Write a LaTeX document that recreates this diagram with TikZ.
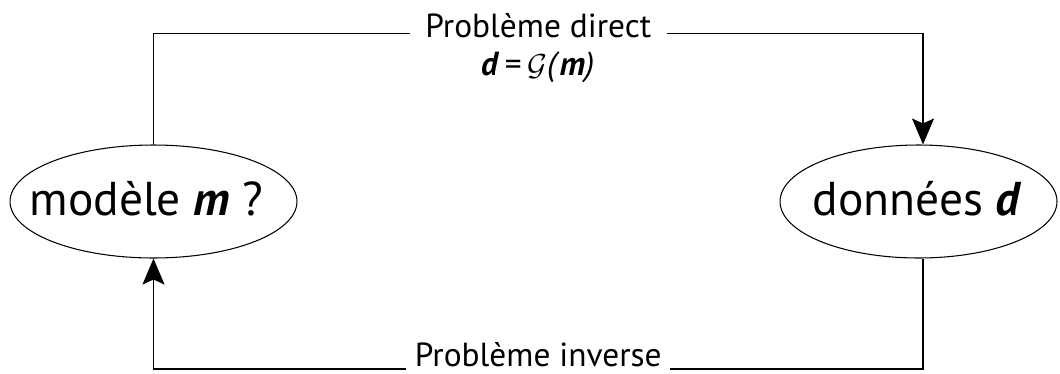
\documentclass[tikz,border=0pt]{standalone}
\usepackage{fontspec}
\setmainfont{PT Sans}
\usetikzlibrary{shapes.geometric,arrows.meta}

\begin{document}
\begin{tikzpicture}[x=0.02cm,y=0.02cm,
  etat/.style={ellipse,draw,line width=0.6pt,inner sep=0pt,minimum width=5.74cm,minimum height=2.26cm},
  nom/.style={anchor=base,font=\fontsize{27}{32}\selectfont},
  lien/.style={line width=0.9pt},
  pointe/.style={-{Stealth[length=0.52cm,width=0.44cm,inset=0.1cm]}},
  titre/.style={fill=white,inner xsep=9pt,inner ysep=2pt,anchor=base,font=\fontsize{19}{23}\selectfont}]
  \useasboundingbox (0,0) rectangle (1060,373);
  \node[etat] (modele) at (153.5,171.5) {};
  \node[etat,minimum width=5.54cm] (donnees) at (918.5,171.5) {};
  \node[nom] (tmodele) at (146.5,158) {modèle \textbf{\textit{m}} ?};
  \node[nom] (tdonnees) at (917.5,158) {données \textbf{\textit{d}}};
  \coordinate (hg) at (153.5,339.5);
  \coordinate (hd) at (923,339.5);
  \coordinate (bg) at (153.5,4);
  \coordinate (bd) at (923,4);
  % direct
  \draw[lien,pointe] (modele.north) -- (hg) -- node[titre,yshift=-0.07cm] (direct) {Problème direct} (hd) -- (hd |- donnees.north);
  \node[anchor=base,font=\fontsize{19}{23}\selectfont] (loi) at (537.5,298) {\textbf{\textit{d}}\,=\,$\mathcal{G}$\textit{(}\textbf{\textit{m}}\textit{)}};
  % inverse
  \draw[lien,pointe] (bd |- donnees.south) -- (bd) -- node[titre,inner xsep=5pt,inner ysep=0pt,text depth=0.08cm,yshift=0.06cm] (inverse) {Problème inverse} (bg) -- (modele.south);
\end{tikzpicture}
\end{document}
